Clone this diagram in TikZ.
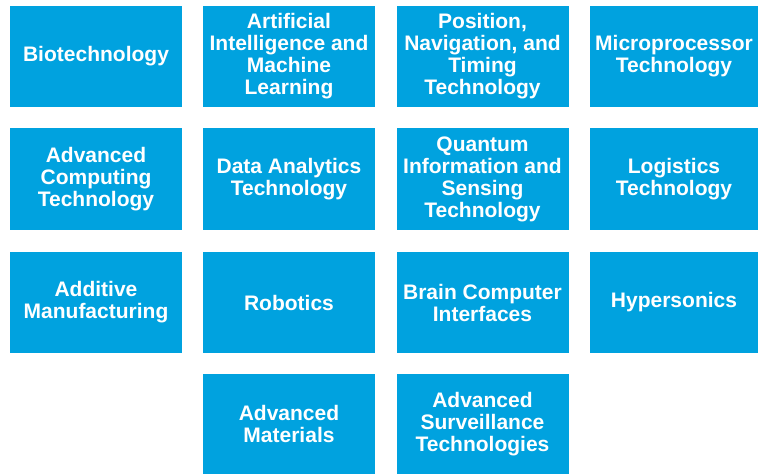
\documentclass[tikz,border=0pt]{standalone}
\usepackage{fontspec}
\setmainfont{Liberation Sans}
\usepackage{tikz}
\usetikzlibrary{positioning}
\definecolor{techblue}{RGB}{0,162,223}
\tikzstyle{techbox} = [fill=techblue, text=white, font=\bfseries\fontsize{21}{22}\selectfont,
  align=center, inner sep=0pt, minimum width=172pt, minimum height=101pt]

\begin{document}
\begin{tikzpicture}[x=1pt, y=1pt]
      \useasboundingbox (0,0) rectangle (758,-474);
      % First row
      \node[techbox] (bio) at (96,-56.5) {Biotechnology};
      \node[techbox] (ai) at (289,-56.5) {Artificial\\Intelligence and\\Machine\\Learning};
      \node[techbox] (pnt) at (482.5,-56.5) {Position,\\Navigation, and\\Timing\\Technology};
      \node[techbox, minimum width=168pt] (micro) at (674,-56.5) {Microprocessor\\Technology};
      % Second row
      \node[techbox, minimum height=102pt] (computing) at (96,-179) {Advanced\\Computing\\Technology};
      \node[techbox, minimum height=102pt] (analytics) at (289,-179) {Data Analytics\\Technology};
      \node[techbox, minimum height=102pt] (quantum) at (482.5,-179) {Quantum\\Information and\\Sensing\\Technology};
      \node[techbox, minimum width=168pt, minimum height=102pt] (logistics) at (674,-179) {Logistics\\Technology};
      % Third row
      \node[techbox] (additive) at (96,-302.5) {Additive\\Manufacturing};
      \node[techbox] (robotics) at (289,-302.5) {Robotics};
      \node[techbox] (bci) at (482.5,-302.5) {Brain Computer\\Interfaces};
      \node[techbox, minimum width=168pt] (hyper) at (674,-302.5) {Hypersonics};
      % Last row
      \node[techbox, minimum height=100pt] (materials) at (289,-424) {Advanced\\Materials};
      \node[techbox, minimum height=100pt] (surveillance) at (482.5,-424) {Advanced\\Surveillance\\Technologies};
    \end{tikzpicture}
\end{document}
